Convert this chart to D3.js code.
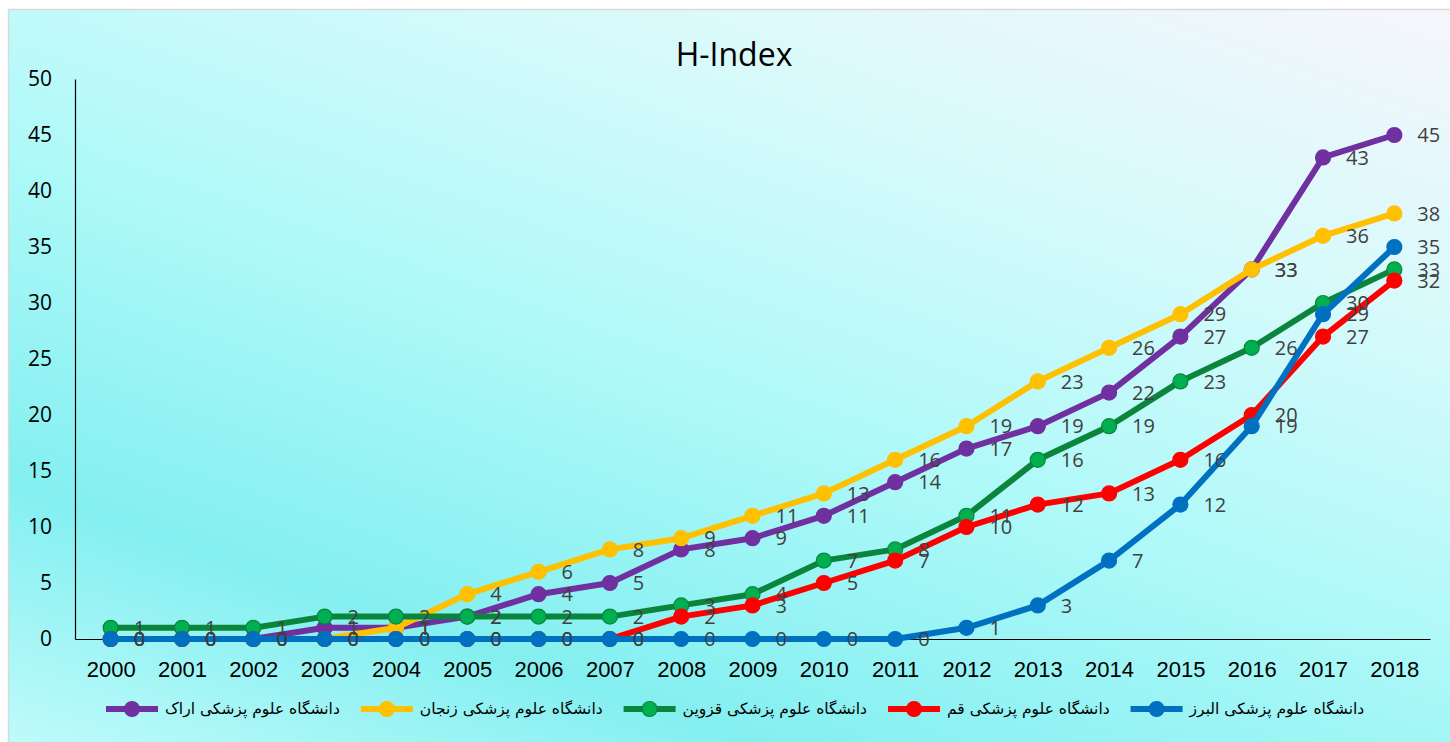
<!DOCTYPE html>
<html>
<head>
<meta charset="utf-8">
<script src="https://cdn.jsdelivr.net/npm/d3@7"></script>
<style>
  html, body { margin: 0; padding: 0; background: #ffffff; }
  svg { display: block; }
</style>
</head>
<body>
<svg id="chart" width="1450" height="742"></svg>
<script>
// ---- Data ----
const years = ["2000","2001","2002","2003","2004","2005","2006","2007","2008","2009","2010","2011","2012","2013","2014","2015","2016","2017","2018"];
const seriesNames = ["دانشگاه علوم پزشکی اراک","دانشگاه علوم پزشکی زنجان","دانشگاه علوم پزشکی قزوین","دانشگاه علوم پزشکی قم","دانشگاه علوم پزشکی البرز"];
const arak    = [0,0,0,1,1,2,4,5,8,9,11,14,17,19,22,27,33,43,45];
const zanjan  = [0,0,0,0,1,4,6,8,9,11,13,16,19,23,26,29,33,36,38];
const qazvin  = [1,1,1,2,2,2,2,2,3,4,7,8,11,16,19,23,26,30,33];
const qom     = [0,0,0,0,0,0,0,0,2,3,5,7,10,12,13,16,20,27,32];
const alborz  = [0,0,0,0,0,0,0,0,0,0,0,0,1,3,7,12,19,29,35];
const yTicks  = [0,5,10,15,20,25,30,35,40,45,50];
const title   = "H-Index";

// ---- Styles ----
const lineColors   = ["#7030a0","#ffc000","#0b853c","#ff0000","#0070c0"];
const markerFill   = ["#7030a0","#ffc000","#00b050","#ff0000","#0070c0"];
const markerStroke = ["#7030a0","#ffc000","#0b853c","#ff0000","#0070c0"];
const values = [arak, zanjan, qazvin, qom, alborz];

const svg = d3.select("#chart");

// background gradient
const defs = svg.append("defs");
const grad = defs.append("linearGradient")
  .attr("id","bg").attr("gradientUnits","userSpaceOnUse")
  .attr("x1",-82).attr("y1",716).attr("x2",297).attr("y2",-370);
[[0,"#c0fbfb"],[0.217,"#84eff0"],[0.5,"#b0f9f9"],[0.75,"#d6fafb"],[1,"#f4f6fc"]]
  .forEach(([o,c]) => grad.append("stop").attr("offset",o).attr("stop-color",c));

svg.append("rect").attr("x",8.5).attr("y",9.5).attr("width",1452).attr("height",740)
  .attr("fill","url(#bg)").attr("stroke","#d9d9d9").attr("stroke-width",1.5);

// scales
const x = d3.scalePoint().domain(years).range([75,1430]).padding(0.5);
const y = d3.scaleLinear().domain([0,50]).range([639,79]);

// title
svg.append("text").attr("x",734).attr("y",66).attr("text-anchor","middle")
  .style("font-family","'Open Sans', sans-serif").style("font-size","32px").attr("fill","#000")
  .text(title);

// y axis
const yAxis = d3.axisLeft(y).tickValues(yTicks).tickSize(0).tickPadding(23);
const gy = svg.append("g").attr("transform","translate(75,0)").call(yAxis);
gy.select(".domain").attr("stroke","#000").attr("stroke-width",1.2);
gy.selectAll("text").style("font-family","'Open Sans', sans-serif").style("font-size","21px").attr("fill","#000");

// x axis
const xAxis = d3.axisBottom(x).tickSize(0).tickPadding(22);
const gx = svg.append("g").attr("transform","translate(0,639)").call(xAxis);
gx.select(".domain").attr("stroke","#000").attr("stroke-width",1.2);
gx.selectAll("text").style("font-family","'Liberation Sans', Arial, sans-serif").style("font-size","22px").attr("fill","#000");

// lines
const line = d3.line().x((d,i)=>x(years[i])).y(d=>y(d));
values.forEach((vals,s) => {
  const g = svg.append("g");
  g.append("path").datum(vals).attr("d",line).attr("fill","none")
    .attr("stroke",lineColors[s]).attr("stroke-width",6).attr("stroke-linejoin","round");
  g.selectAll("circle").data(vals).join("circle")
    .attr("cx",(d,i)=>x(years[i])).attr("cy",d=>y(d)).attr("r",7.5)
    .attr("fill",markerFill[s]).attr("stroke",markerStroke[s]).attr("stroke-width",1.2);
});

// data labels
values.forEach((vals,s) => {
  svg.append("g").selectAll("text").data(vals).join("text")
    .attr("x",(d,i)=>x(years[i])+23).attr("y",d=>y(d)).attr("dy","0.36em")
    .style("font-family","'Open Sans', sans-serif").style("font-size","20px").attr("fill","#404040")
    .text(d=>d);
});

// legend
const legY = 709;
const lg = svg.append("g");
let cx = 106;
seriesNames.forEach((name,s) => {
  const it = lg.append("g");
  it.append("line").attr("x1",cx).attr("x2",cx+52).attr("y1",legY).attr("y2",legY)
    .attr("stroke",lineColors[s]).attr("stroke-width",6);
  it.append("circle").attr("cx",cx+26).attr("cy",legY).attr("r",7.5)
    .attr("fill",markerFill[s]).attr("stroke",markerStroke[s]).attr("stroke-width",1.2);
  const t = it.append("text").attr("x",cx+59).attr("y",legY).attr("dy","0.35em")
    .style("font-family","'DejaVu Sans', sans-serif").style("font-size","15.5px").attr("fill","#000")
    .text(name);
  const w = t.node().getComputedTextLength();
  cx += 59 + w + 21;
});
</script>
</body>
</html>
